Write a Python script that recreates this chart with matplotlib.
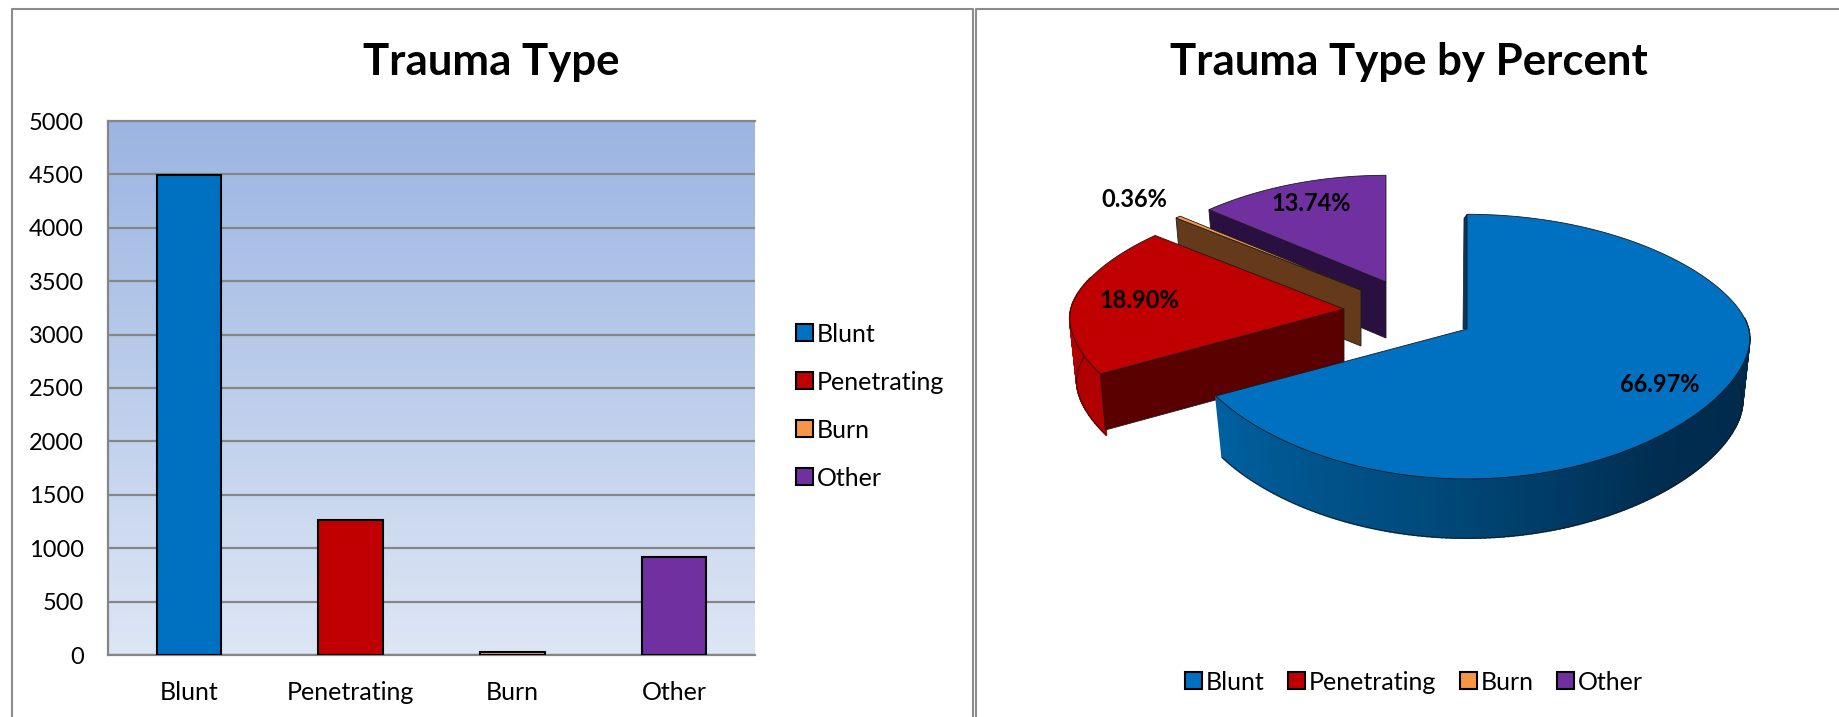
import numpy as np
import matplotlib
matplotlib.use('Agg')
import matplotlib.pyplot as plt
from matplotlib.patches import Patch, Polygon
from matplotlib.colors import LinearSegmentedColormap

plt.rcParams['font.family'] = ['Lato', 'DejaVu Sans']

categories = ['Blunt', 'Penetrating', 'Burn', 'Other']
counts = [4490, 1267, 24, 921]
percents = [66.97, 18.90, 0.36, 13.74]
y_ticks = [0, 500, 1000, 1500, 2000, 2500, 3000, 3500, 4000, 4500, 5000]
colors = ['#0070C0', '#C00000', '#F79646', '#7030A0']
wall_colors = ['#00406E', '#5A0000', '#643A1A', '#2A1040']

W, H = 1840, 717

fig = plt.figure(figsize=(W / 100, H / 100), dpi=100, facecolor='white')

# full figure axes in pixels, used for the panel frames and the 3d pie
bg = fig.add_axes([0, 0, 1, 1])
bg.set_xlim(0, W)
bg.set_ylim(H, 0)
bg.axis('off')

frame = '#8C8C8C'
bg.plot([12, 12, 973, 973], [H, 9, 9, H], color=frame, lw=1.5)
bg.plot([976, 976, W], [H, 9, 9], color=frame, lw=1.5)

bg.text(491, 62, 'Trauma Type', fontsize=31.5, fontweight='bold', ha='center', va='center')
bg.text(1409, 62, 'Trauma Type by Percent', fontsize=31.5, fontweight='bold', ha='center', va='center')

# bar chart
left, right, top, bottom = 108, 755, 121, 655
ax = fig.add_axes([left / W, 1 - bottom / H, (right - left) / W, (bottom - top) / H])
ax.set_facecolor('none')
grad = np.linspace(0, 1, 256).reshape(-1, 1)
cmap = LinearSegmentedColormap.from_list('plot_bg', ['#9BB5E2', '#DDE6F4'])
ax.imshow(grad, cmap=cmap, aspect='auto', extent=(-0.5, 3.5, 0, 5000), zorder=0)
ax.bar(range(4), counts, width=0.4, color=colors, edgecolor='black', linewidth=1.5, zorder=3)
ax.set_xlim(-0.5, 3.5)
ax.set_ylim(0, 5000)
ax.set_yticks(y_ticks)
ax.set_xticks(range(4))
ax.set_xticklabels(categories)
ax.tick_params(axis='both', length=0, labelsize=18)
ax.tick_params(axis='y', labelsize=17, pad=17.5)
ax.tick_params(axis='x', pad=19)
ax.grid(axis='y', color='#868686', lw=1.6, zorder=1)
ax.set_axisbelow(False)
for g in ax.get_ygridlines():
    g.set_zorder(1)
for name, spine in ax.spines.items():
    spine.set_visible(name in ('left', 'bottom', 'top'))
    spine.set_color('#868686')
    spine.set_linewidth(1.6)

handles = [Patch(facecolor=c, edgecolor='black', linewidth=1.5) for c in colors]
left_legend = bg.legend(handles, categories, loc='center left', bbox_to_anchor=(774 / W, 1 - 406 / H),
                        bbox_transform=fig.transFigure, frameon=False, fontsize=18, handlelength=0.68,
                        handleheight=0.68, handletextpad=0.15, labelspacing=1.0)
bg.add_artist(left_legend)
bg.legend(handles, categories, loc='center', bbox_to_anchor=(1414 / W, 1 - 682 / H),
          bbox_transform=fig.transFigure, frameon=False, fontsize=18, ncol=4, handlelength=0.68,
          handleheight=0.68, handletextpad=0.15, columnspacing=0.95)

# 3d pie, perspective projection of a tilted disc
cx, cy = 1467, 329
rx, ry, persp = 281.6, 130, 0.133
drop = 63
bottom_scale = 0.975
offsets = [(0, 0), (-123, -20), (-106, -39), (-81, -47)]
scales = [1.0, 0.97, 0.95, 0.93]
label_r = [0.78, 0.76, 1.24, 0.8]
edge = '#1A1A1A'


def x_div(s):
    return 1 + 0.11 * (s + np.sqrt(s ** 2 + 0.04)) - 0.022


def project(theta, i, lower=False):
    t = np.radians(90 - np.asarray(theta, dtype=float))
    c, s = np.cos(t), np.sin(t)
    sc = scales[i] * (bottom_scale if lower else 1)
    x = cx + offsets[i][0] + sc * rx * c / x_div(s)
    y = cy + offsets[i][1] - sc * ry * s / (1 + persp * s) + (drop if lower else 0)
    return np.column_stack([x, y])


def apex(i):
    return np.array([cx + offsets[i][0], cy + offsets[i][1]])


edges = np.cumsum([0] + percents) / sum(percents) * 360
wall_cmap = LinearSegmentedColormap.from_list('wall', ['#00294A', '#002D50', '#004A7C', '#00609F'])


def draw_wall(i, angles, z, shades):
    for j in range(len(angles) - 1):
        pair = angles[j:j + 2]
        quad = np.vstack([project(pair, i), project(pair[::-1], i, lower=True)])
        shade = shades(j / (len(angles) - 2))
        bg.add_patch(Polygon(quad, closed=True, facecolor=shade, edgecolor=shade, lw=1.2, zorder=z))
    low = project(angles, i, lower=True)
    bg.plot(low[:, 0], low[:, 1], color=edge, lw=0.6, zorder=z + 0.05)


def draw_slice(i, z):
    a0, a1 = edges[i], edges[i + 1]
    arc = project(np.linspace(a0, a1, 200), i)
    tip = apex(i)
    if i == 0:
        # outer wall with the gradient, back edge first
        draw_wall(i, np.linspace(85, a1, 160), z, wall_cmap)
        # thin cut face at twelve o'clock
        bg.add_patch(Polygon([project([0], i)[0], tip, tip + [-4, 0], project([0], i)[0] + [-3, 4]],
                             closed=True, facecolor='#003A66', edgecolor=edge, lw=0.5, zorder=z))
    else:
        if i == 1:
            draw_wall(i, np.linspace(a0, 285, 50), z, lambda v: '#B00000')
        # cut face that looks at the viewer
        corner = arc[0]
        face = [corner, tip, tip + [0, drop - 7], corner + [5, drop - 7]]
        bg.add_patch(Polygon(face, closed=True, facecolor=wall_colors[i], edgecolor=edge, lw=0.6, zorder=z + 0.1))
    poly = np.vstack([tip, arc])
    bg.add_patch(Polygon(poly, closed=True, facecolor=colors[i], edgecolor=edge, lw=0.6, zorder=z + 0.2))


for i, z in zip([3, 2, 1, 0], [2, 3, 4, 5]):
    draw_slice(i, z)

for i, p in enumerate(percents):
    mid = (edges[i] + edges[i + 1]) / 2
    t = np.radians(90 - mid)
    s = np.sin(t)
    f = label_r[i] * scales[i]
    x = cx + offsets[i][0] + f * rx * np.cos(t) / x_div(s)
    y = cy + offsets[i][1] - f * ry * s / (1 + persp * s)
    bg.text(x, y, f'{p:.2f}%', fontsize=17, fontweight='bold', ha='center', va='center', zorder=8)

fig.savefig('out.png', dpi=100)
